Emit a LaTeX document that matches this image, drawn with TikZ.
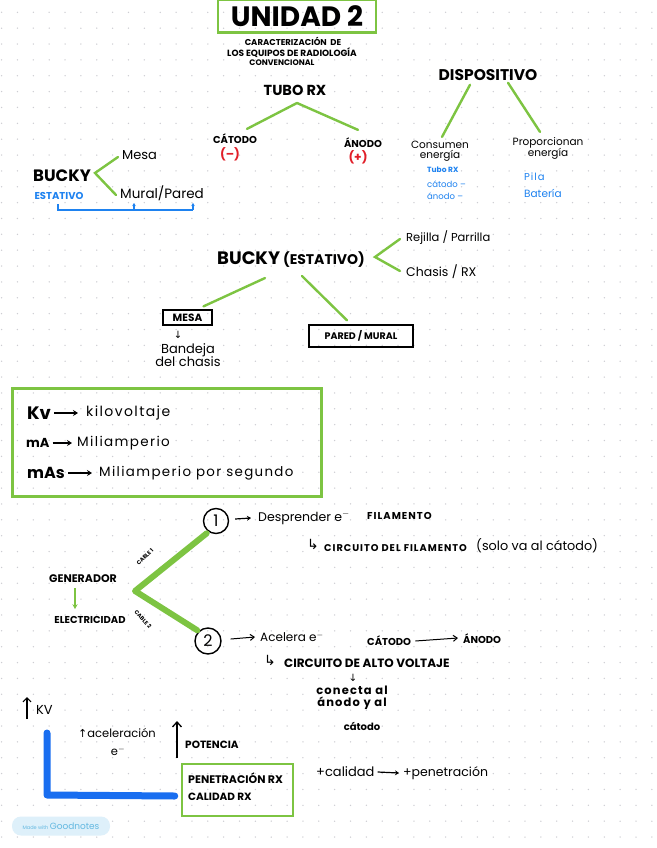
\documentclass[tikz,border=0pt]{standalone}
\usepackage{fontspec}
\setmainfont{Poppins}
\newfontfamily\dejavu{DejaVu Sans}
\newfontfamily\hwide{Poppins}[LetterSpace=10]
\usetikzlibrary{arrows.meta,calc}
\definecolor{gn}{RGB}{125,196,66}
\definecolor{bl}{RGB}{30,130,240}
\definecolor{bld}{RGB}{25,110,240}
\definecolor{rd}{RGB}{225,30,40}
\definecolor{dotc}{RGB}{205,205,210}
\definecolor{badgebg}{RGB}{222,240,250}
\definecolor{badgetx}{RGB}{100,185,225}
\newcommand{\fs}[1]{\fontsize{#1}{#1}\selectfont}
\tikzset{
  gline/.style={draw=gn,line width=2.4pt,line cap=round},
  gbox/.style={draw=gn,line width=2.5pt},
  kbox/.style={draw=black,line width=1.3pt},
  txt/.style={inner sep=0pt,text=black},
  btxt/.style={inner sep=0pt,text=bl},
  karr/.style={draw=black,line width=1.8pt,-{Stealth[length=5pt,width=6pt]}},
  tarr/.style={draw=black,line width=1pt,-{Straight Barb[length=4pt,width=6pt]}},
}
\begin{document}
\begin{tikzpicture}[x=1pt,y=-1pt]
\useasboundingbox (0,0) rectangle (656,848);
\fill[white] (0,0) rectangle (656,848);
\foreach \i in {0,...,41}{\foreach \j in {0,...,52}{\fill[dotc] (1.6+15.86*\i,12.3+15.86*\j) circle (0.75);}}
% title
\node[gbox,minimum width=158,minimum height=33,inner sep=0pt,font=\bfseries\fs{28}] (unidad) at (297,16) {UNIDAD 2};
\node[txt,font=\bfseries\fs{8.5}] (sub1) at (293,41) {CARACTERIZACIÓN\ \ DE};
\node[txt,font=\bfseries\fs{9}] (sub2) at (292,53) {LOS EQUIPOS DE RADIOLOGÍA};
\node[txt,font=\bfseries\fs{8}] (sub3) at (282,63) {CONVENCIONAL};
% tubo rx
\node[txt,font=\bfseries\fs{14.5}] (tubo) at (295,90) {TUBO RX};
\node[txt,font=\bfseries\fs{10}] (catodo) at (235,139) {CÁTODO};
\node[txt,font=\bfseries\fs{12},text=rd] (menos) at (230,154) {(–)};
\node[txt,font=\bfseries\fs{10}] (anodo) at (363,143) {ÁNODO};
\node[txt,font=\bfseries\fs{12},text=rd] (mas) at (358,157) {(+)};
\coordinate (tuboapex) at (297,103);
\draw[gline] (tuboapex) -- ($(catodo.north)+(12,-5)$);
\draw[gline] (tuboapex) -- ($(anodo.north)+(-5,-8)$);
% dispositivo
\node[txt,font=\bfseries\fs{15.5}] (disp) at (488,75) {DISPOSITIVO};
\node[txt,font=\fs{10.5},align=center] (consumen) at (440,151) {Consumen\\[-1pt]energía};
\node[txt,font=\fs{10.5},align=center] (proporc) at (548,148) {Proporcionan\\[-1pt]energía};
\draw[gline] ($(disp.south)+(-18,4)$) -- ($(consumen.north)+(2,-4)$);
\draw[gline] ($(disp.south)+(20,2)$) -- ($(proporc.north)+(-8,-5)$);
\node[btxt,font=\bfseries\fs{7.5},anchor=west] (tuborx) at (427,170) {Tubo RX};
\node[btxt,font=\fs{8.5},anchor=west] (catm) at (427,184) {cátodo –};
\node[btxt,font=\fs{8.5},anchor=west] (anm) at (427,196) {ánodo –};
\node[btxt,font=\hwide\fs{10},anchor=west] (pila) at (524,177) {Pila};
\node[btxt,font=\fs{10.5},anchor=west] (bat) at (524,193) {Batería};
% bucky 1
\node[txt,font=\bfseries\fs{16.5}] (bucky1) at (62,176) {BUCKY};
\node[txt,font=\fs{13},anchor=west] (mesa1) at (122,155) {Mesa};
\node[txt,font=\fs{13.5},anchor=west] (mural1) at (120,193) {Mural/Pared};
\coordinate (b1apex) at (95,173);
\draw[gline] ($(mesa1.west)+(-4,2)$) -- (b1apex) -- ($(mural1.west)+(-4,2)$);
\node[btxt,font=\bfseries\fs{10}] (estativo1) at (59,196) {ESTATIVO};
\coordinate (br1) at (58,210);
\coordinate (br2) at (134,210);
\coordinate (br3) at (193,210);
\draw[bl,line width=1.2pt] (58,204) -- (br1) -- (br3);
\draw[bl,line width=1.2pt,-{Stealth[length=3pt,width=3.5pt]}] (br2) -- ++(0,-7);
\draw[bl,line width=1.2pt,-{Stealth[length=3pt,width=3.5pt]}] (br3) -- ++(0,-7);
% bucky (estativo)
\node[txt,font=\bfseries\fs{18},anchor=west] (bucky2) at (217,260) {BUCKY\,{\fs{14}(ESTATIVO)}};
\node[txt,font=\fs{11.5},anchor=west] (rejilla) at (406,238) {Rejilla / Parrilla};
\node[txt,font=\fs{12.5},anchor=west] (chasis) at (406,272) {Chasis / RX};
\coordinate (b2apex) at (375,257);
\draw[gline] ($(rejilla.west)+(-6,1)$) -- (b2apex) -- ($(chasis.west)+(-6,-1)$);
\node[kbox,font=\bfseries\fs{10.5},minimum width=49,minimum height=15,inner sep=0pt] (mesa2) at (187.5,317.5) {MESA};
\node[kbox,font=\bfseries\fs{9.5},minimum width=104,minimum height=22,inner sep=0pt] (pared2) at (361,336) {PARED / MURAL};
\draw[gline] ($(bucky2.south west)+(48,10)$) -- ($(mesa2.north)+(16,-3)$);
\draw[gline] ($(bucky2.south west)+(85,8)$) -- ($(pared2.north)+(-14,-4)$);
\node[txt,font=\dejavu\fs{10}] (arrmesa) at (178,335) {↓};
\node[txt,font=\fs{13},align=center] (bandeja) at (188,355) {Bandeja\\[-1pt]del chasis};
% units box
\node[gbox,minimum width=309,minimum height=108,inner sep=0pt] (units) at (167,442.5) {};
\node[txt,font=\bfseries\fs{18},anchor=west] (kvlab) at (27,413) {Kv};
\node[txt,font=\hwide\fs{14},anchor=west] (kvdef) at (86,413) {kilovoltaje};
\node[txt,font=\bfseries\fs{13},anchor=west] (malab) at (26,443) {mA};
\node[txt,font=\hwide\fs{13.5},anchor=west] (madef) at (77,443) {Miliamperio};
\node[txt,font=\bfseries\fs{16},anchor=west] (maslab) at (27,473) {mAs};
\node[txt,font=\hwide\fs{13.4},anchor=west] (masdef) at (99,473) {Miliamperio por segundo};
\draw[karr] ($(kvlab.east)+(3,0)$) -- ($(kvdef.west)+(-8,0)$);
\draw[karr] ($(malab.east)+(3,0)$) -- ($(madef.west)+(-5,0)$);
\draw[karr] ($(maslab.east)+(3,0)$) -- ($(masdef.west)+(-7,0)$);
% generator section
\node[circle,draw,line width=1.4pt,minimum size=25,inner sep=0pt,font=\fs{16}] (c1) at (216,521) {1};
\node[circle,draw,line width=1.4pt,minimum size=26,inner sep=0pt,font=\fs{16}] (c2) at (208,641) {2};
\node[txt,font=\fs{12.5},anchor=west] (despr) at (258,518) {Desprender e$^{-}$};
\node[txt,font=\bfseries\hwide\fs{10},anchor=west] (filam) at (367,516) {FILAMENTO};
\draw[draw=black,line width=1.2pt,-{Stealth[length=4pt,width=5pt]}] ($(c1.east)+(6,-2)$) -- ($(despr.west)+(-7,0)$);
\node[txt,font=\dejavu\fs{14}] (hook1) at (313,544) {↳};
\node[txt,font=\bfseries\hwide\fs{9.8},anchor=west] (circfil) at (324,548) {CIRCUITO DEL FILAMENTO};
\node[txt,font=\fs{12.8},anchor=west] (solo) at (476,546) {(solo va al cátodo)};
\node[txt,font=\bfseries\fs{11}] (gen) at (83,579) {GENERADOR};
\node[txt,font=\bfseries\fs{10}] (elec) at (90,620) {ELECTRICIDAD};
\draw[gn,line width=1.8pt,-{Stealth[length=5pt,width=5pt]}] ($(gen.south)+(-8,5)$) -- ($(elec.north)+(-15,-7)$);
\coordinate (capex) at (135,591);
\draw[gn,line width=6pt,line cap=round,line join=round] ($(c1.south west)+(0,3)$) -- (capex) -- ($(c2.north west)+(-1,-1)$);
\node[txt,font=\bfseries\fs{5.5},rotate=44] (cable1) at (145,557) {CABLE 1};
\node[txt,font=\bfseries\fs{5.5},rotate=-47] (cable2) at (143,619) {CABLE 2};
\node[txt,font=\fs{12},anchor=west] (acel) at (260,637) {Acelera e$^{-}$};
\draw[tarr] ($(c2.east)+(9,-2)$) -- ($(acel.west)+(-5,0)$);
\node[txt,font=\bfseries\fs{10},anchor=west] (cat2) at (367,641) {CÁTODO};
\node[txt,font=\bfseries\fs{10},anchor=west] (an2) at (463,639) {ÁNODO};
\draw[tarr] ($(cat2.east)+(4,0)$) -- ($(an2.west)+(-5,-1)$);
\node[txt,font=\dejavu\fs{14}] (hook2) at (270,660) {↳};
\node[txt,font=\bfseries\fs{12},anchor=west] (circav) at (284,663) {CIRCUITO DE ALTO VOLTAJE};
\node[txt,font=\dejavu\fs{10}] (arrc) at (353,678) {↓};
\node[txt,font=\bfseries\hwide\fs{11.5},align=center] (conecta) at (352,698) {conecta al\\[1pt]ánodo y al};
\node[txt,font=\bfseries\fs{10}] (catodo3) at (362,726) {cátodo};
% bottom section
\coordinate (kvtop) at (27,697);
\node[txt,font=\fs{13},anchor=west] (kvup) at (36,710) {KV};
\draw[draw=black,line width=1.2pt,-{Straight Barb[length=4pt,width=8pt]}] (27,719) -- (kvtop);
\coordinate (lt) at (47,733);
\coordinate (lc) at (47,795);
\node[gbox,minimum width=111,minimum height=52,inner sep=0pt] (penbox) at (237.5,790) {};
\draw[bld,line width=7pt,line cap=round,line join=round] (lt) -- (lc) -- ($(penbox.west)+(-6,6)$);
\node[txt,font=\fs{11.5},anchor=west] (acelerac) at (78,733) {{\dejavu\fs{11}↑}aceleración};
\node[txt,font=\fs{11.5}] (eminus) at (118,751) {e$^{-}$};
\coordinate (potbot) at (177,758);
\draw[draw=black,line width=1.3pt,-{Straight Barb[length=5pt,width=9pt]}] (potbot) -- (177,721);
\node[txt,font=\bfseries\fs{10.5},anchor=west] (potencia) at (185,745) {POTENCIA};
\node[txt,font=\bfseries\fs{11},anchor=west] (pen) at (188,778) {PENETRACIÓN RX};
\node[txt,font=\bfseries\fs{10.5},anchor=west] (cal) at (188,797) {CALIDAD RX};
\node[txt,font=\fs{13},anchor=west] (mascal) at (316,772) {+calidad};
\node[txt,font=\fs{12.5},anchor=west] (maspen) at (403,773) {+penetración};
\draw[draw=black,line width=1.2pt,-{Stealth[length=4pt,width=5pt]}] ($(mascal.east)+(3,0)$) -- ($(maspen.west)+(-4,0)$);
% goodnotes badge
\node[fill=badgebg,rounded corners=9pt,minimum width=98,minimum height=19,inner sep=0pt,font=\fs{5},text=badgetx] (badge) at (61,826) {Made with \fs{9}Goodnotes};
\end{tikzpicture}
\end{document}
